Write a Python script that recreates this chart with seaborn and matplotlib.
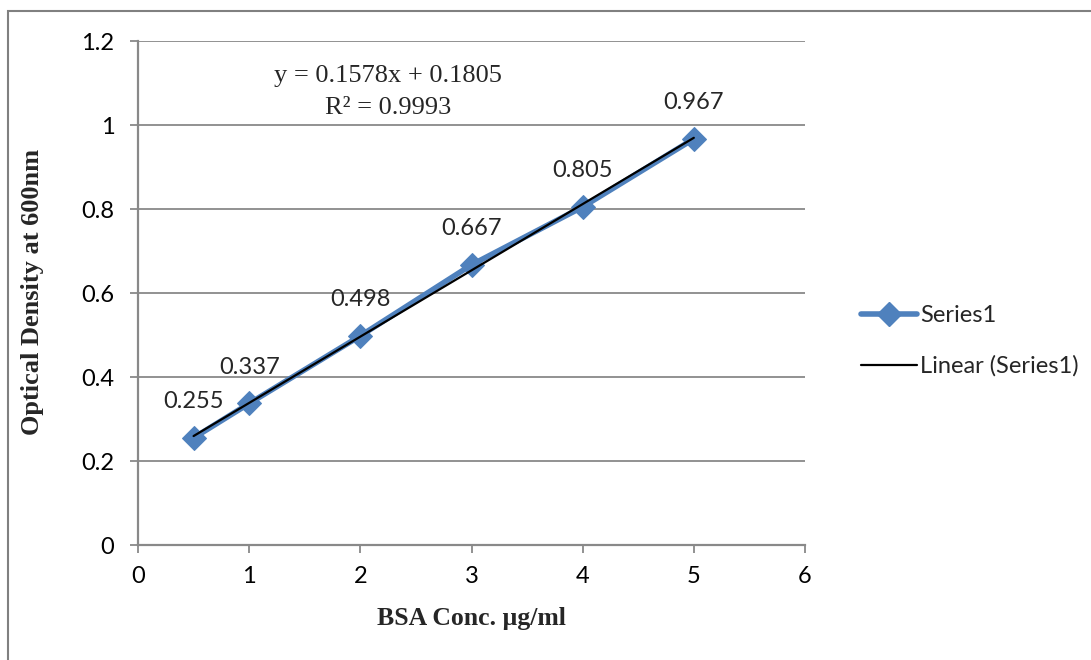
import matplotlib
matplotlib.use("Agg")
import matplotlib.pyplot as plt
import seaborn as sns
import pandas as pd
from matplotlib.lines import Line2D
from matplotlib.patches import Rectangle

# Data
conc = [0.5, 1, 2, 3, 4, 5]
od = [0.255, 0.337, 0.498, 0.667, 0.805, 0.967]
labels = ["0.255", "0.337", "0.498", "0.667", "0.805", "0.967"]
equation = "y = 0.1578x + 0.1805"
r2_text = "R² = 0.9993"
x_ticks = [0, 1, 2, 3, 4, 5, 6]
y_ticks = [0, 0.2, 0.4, 0.6, 0.8, 1.0, 1.2]
y_ticklabels = ["0", "0.2", "0.4", "0.6", "0.8", "1", "1.2"]

df = pd.DataFrame({"conc": conc, "od": od})

sns.set_theme(style="white")
plt.rcParams["font.family"] = ["Lato", "DejaVu Sans"]

W, H = 1091, 660
fig = plt.figure(figsize=(W / 100, H / 100), dpi=100)
ax = fig.add_axes([138 / W, 1 - 545 / H, (805 - 138) / W, (545 - 41) / H])

blue = "#4F81BD"
grid_c = "#898989"
tick_fs = 17

sns.lineplot(data=df, x="conc", y="od", ax=ax, color=blue, linewidth=4,
             marker="D", markersize=12.5, markeredgecolor=blue, zorder=3)
sns.regplot(data=df, x="conc", y="od", ax=ax, ci=None, scatter=False,
            truncate=True, line_kws=dict(color="black", linewidth=1.6, zorder=4))

ax.set_xlim(0, 6)
ax.set_ylim(0, 1.2)
ax.set_xticks(x_ticks)
ax.set_xticklabels([str(t) for t in x_ticks])
ax.set_yticks(y_ticks)
ax.set_yticklabels(y_ticklabels)
ax.tick_params(axis="both", labelsize=tick_fs, colors="black", length=6,
               width=1.3, color=grid_c, direction="out", left=True, bottom=True)
ax.tick_params(axis="y", pad=11)
ax.tick_params(axis="x", pad=9)
ax.yaxis.grid(True, color=grid_c, linewidth=1.3)
ax.xaxis.grid(False)
for s in ["top", "right"]:
    ax.spines[s].set_visible(False)
for s in ["left", "bottom"]:
    ax.spines[s].set_color(grid_c)
    ax.spines[s].set_linewidth(1.6)

ax.set_xlabel("BSA Conc. µg/ml", fontsize=18.5, fontweight="bold",
              family="Liberation Serif")
ax.set_ylabel("Optical Density at 600nm", fontsize=19, fontweight="bold",
              family="Liberation Serif")
ax.xaxis.label.set_va("center")
ax.yaxis.label.set_va("center")
ax.xaxis.set_label_coords((471 - 138) / 667, (545 - 618) / 504)
ax.yaxis.set_label_coords((33 - 138) / 667, (545 - 292) / 504)

for x, y, t in zip(conc, od, labels):
    ax.annotate(t, (x, y), xytext=(0, 26), textcoords="offset points",
                ha="center", va="center", fontsize=tick_fs)

fig.text(388 / W, 1 - 76 / H, equation, ha="center", va="center",
         fontsize=19, family="Liberation Serif")
fig.text(388 / W, 1 - 108 / H, r2_text, ha="center", va="center",
         fontsize=19, family="Liberation Serif")

handles = [
    Line2D([0], [0], color=blue, linewidth=4, marker="D", markersize=12.5,
           markeredgecolor=blue),
    Line2D([0], [0], color="black", linewidth=1.6),
]
fig.legend(handles, ["Series1", "Linear (Series1)"], loc="center left",
           bbox_to_anchor=(849 / W, 1 - 341 / H), frameon=False,
           fontsize=tick_fs, handlelength=2.4, handletextpad=0.1,
           labelspacing=1.25, borderpad=0)

fig.add_artist(Rectangle((8 / W, -0.1), 1.2, 1 - 11 / H + 0.1,
                         transform=fig.transFigure, fill=False,
                         edgecolor="#808080", linewidth=1.5))

fig.savefig("out.png", dpi=100)
